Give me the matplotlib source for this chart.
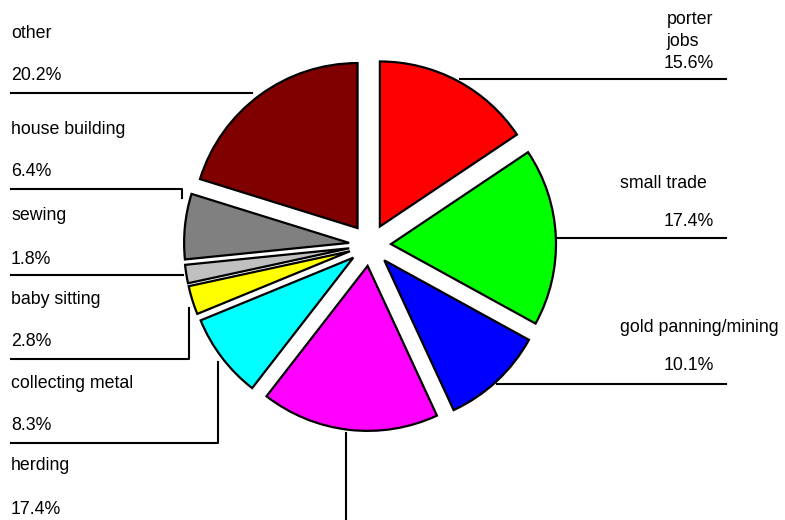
import matplotlib
matplotlib.use("Agg")
import matplotlib.pyplot as plt

categories = ["porter\njobs", "small trade", "gold panning/mining", "herding",
              "collecting metal", "baby sitting", "sewing", "house building", "other"]
values = [15.6, 17.4, 10.1, 17.4, 8.3, 2.8, 1.8, 6.4, 20.2]
pct_labels = ["15.6%", "17.4%", "10.1%", "17.4%", "8.3%", "2.8%", "1.8%", "6.4%", "20.2%"]
colors = ["#FF0000", "#00FF00", "#0000FF", "#FF00FF", "#00FFFF",
          "#FFFF00", "#C0C0C0", "#808080", "#800000"]

W, H = 785, 520
fig = plt.figure(figsize=(W / 100, H / 100), dpi=100)
ax = fig.add_axes([0, 0, 1, 1])
plt.rcParams['font.family'] = ['Liberation Sans', 'DejaVu Sans']

def Y(y):
    return H - y

cx, cy, R = 370, 245, 165
explode = [21] * len(values)  # absolute offset in data units
ax.pie(values, colors=colors, startangle=90, counterclock=False,
       center=(cx, Y(cy)), radius=R, explode=explode,
       wedgeprops=dict(edgecolor="black", linewidth=1.6))
ax.set_xlim(0, W)
ax.set_ylim(0, H)
ax.set_aspect('auto')
ax.axis('off')

fs = 12.8
lc = dict(color="black", linewidth=1.5)

# right side labels
ax.text(667, Y(19), "porter", fontsize=fs, ha="left", va="center")
ax.text(666, Y(41), "jobs", fontsize=fs, ha="left", va="center")
ax.text(714, Y(63), pct_labels[0], fontsize=fs, ha="right", va="center")
ax.plot([460, 726], [Y(79), Y(79)], **lc)

ax.text(620, Y(183), categories[1], fontsize=fs, ha="left", va="center")
ax.text(714, Y(222), pct_labels[1], fontsize=fs, ha="right", va="center")
ax.plot([557, 726], [Y(238), Y(238)], **lc)

ax.text(620, Y(327), categories[2], fontsize=fs, ha="left", va="center")
ax.text(714, Y(366), pct_labels[2], fontsize=fs, ha="right", va="center")
ax.plot([497, 726], [Y(384), Y(384)], **lc)

# left side labels
left = [
    (8, 34, 76, [(11, 93), (252, 93)]),
    (7, 130, 171, [(11, 189), (182, 189), (182, 198)]),
    (6, 216, 259, [(11, 275), (183, 275)]),
    (5, 300, 341, [(11, 359), (189, 359), (189, 308)]),
    (4, 384, 426, [(11, 443), (218, 443), (218, 362)]),
]
for idx, ty, py, pts in left:
    ax.text(11, Y(ty), categories[idx], fontsize=fs, ha="left", va="center")
    ax.text(11, Y(py), pct_labels[idx], fontsize=fs, ha="left", va="center")
    ax.plot([p[0] for p in pts], [Y(p[1]) for p in pts], **lc)

ax.text(11, Y(465), categories[3], fontsize=fs, ha="left", va="center")
ax.text(11, Y(509), pct_labels[3], fontsize=fs, ha="left", va="center")
ax.plot([346, 346], [Y(433), Y(520)], **lc)

fig.savefig("out.png", dpi=100)
